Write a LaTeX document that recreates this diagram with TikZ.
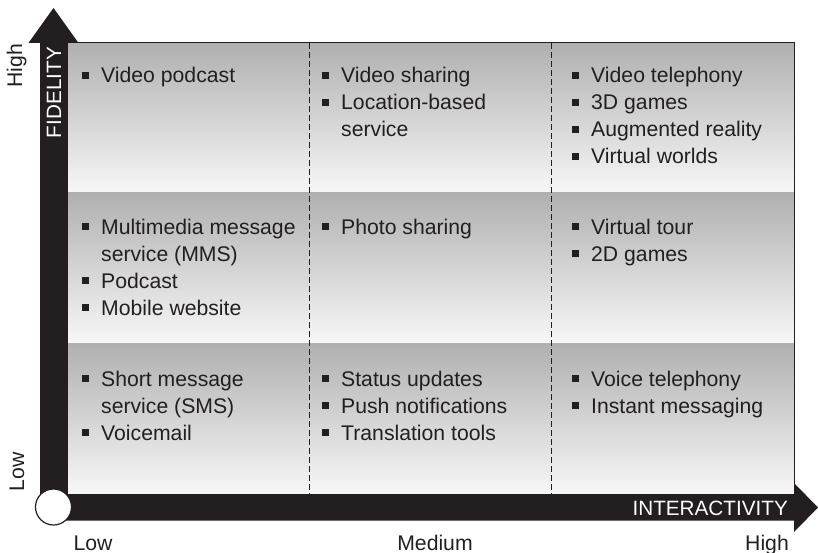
\documentclass[tikz,border=0pt]{standalone}
\usepackage{fontspec}
\setmainfont{Liberation Sans}
\definecolor{ink}{HTML}{231F20}
\tikzset{
  celltext/.style={anchor=base west, inner sep=0pt, align=left, font=\fontsize{21.2}{27}\selectfont, text=ink},
  axislabel/.style={inner sep=0pt, font=\fontsize{21.2}{24}\selectfont, text=ink},
  axistitle/.style={inner sep=0pt, font=\fontsize{20.7}{24}\selectfont, text=white},
  rowband/.style={top color=black!31, bottom color=black!3},
  divider/.style={draw=ink, dash pattern=on 6pt off 3pt, line width=1pt},
  axisbar/.style={fill=ink, draw=none},
}
\newcommand{\bul}{\makebox[19pt][l]{\rule[3.8pt]{7pt}{7pt}}}
\newcommand{\cont}{\hspace*{19pt}}
\begin{document}
\begin{tikzpicture}[x=1pt,y=-1pt]
\useasboundingbox (0,0) rectangle (818,553);
% row bands
\shade[rowband] (67,43) rectangle (794,193);
\shade[rowband] (67,193) rectangle (794,343);
\shade[rowband] (67,343) rectangle (794,494);
\draw[ink, line width=1pt] (67,43) rectangle (794,494);
% column dividers
\coordinate (d1t) at (309,43); \coordinate (d1b) at (309,494);
\coordinate (d2t) at (551,43); \coordinate (d2b) at (551,494);
\draw[divider] (d1t) -- (d1b);
\draw[divider] (d2t) -- (d2b);
% axes
\fill[axisbar] (40,507) -- (40,43) -- (28.5,43) -- (53.5,8) -- (78.5,43) -- (67,43) -- (67,507) -- cycle;
\fill[axisbar] (53.5,494) -- (794,494) -- (794,483) -- (818,507.5) -- (794,532) -- (794,520.5) -- (53.5,520.5) -- cycle;
\node[circle, draw=ink, fill=white, line width=1.2pt, minimum size=36pt, inner sep=0pt] (origin) at (53.5,507) {};
\node[axistitle, rotate=90, anchor=base east] (fid) at (61,47) {FIDELITY};
\node[axistitle, anchor=base east] (inter) at (788,515) {INTERACTIVITY};
% axis labels
\node[axislabel, rotate=90, anchor=base] (yhigh) at (22,66) {High};
\node[axislabel, rotate=90, anchor=base] (ylow) at (24,472) {Low};
\node[axislabel, anchor=base] (xlow) at (93,550) {Low};
\node[axislabel, anchor=base] (xmed) at (435,550) {Medium};
\node[axislabel, anchor=base] (xhigh) at (767,550) {High};
% cells (anchor = baseline of the last line)
\node[celltext] (c11) at (82,83) {\bul Video podcast};
\node[celltext] (c12) at (322,137) {\bul Video sharing\\\bul Location-based\\\cont service};
\node[celltext] (c13) at (572,164) {\bul Video telephony\\\bul 3D games\\\bul Augmented reality\\\bul Virtual worlds};
\node[celltext] (c21) at (82,315) {\bul Multimedia message\\\cont service (MMS)\\\bul Podcast\\\bul Mobile website};
\node[celltext] (c22) at (322,234) {\bul Photo sharing};
\node[celltext] (c23) at (572,261) {\bul Virtual tour\\\bul 2D games};
\node[celltext] (c31) at (82,440) {\bul Short message\\\cont service (SMS)\\\bul Voicemail};
\node[celltext] (c32) at (322,440) {\bul Status updates\\\bul Push notifications\\\bul Translation tools};
\node[celltext] (c33) at (572,413) {\bul Voice telephony\\\bul Instant messaging};
\end{tikzpicture}
\end{document}
